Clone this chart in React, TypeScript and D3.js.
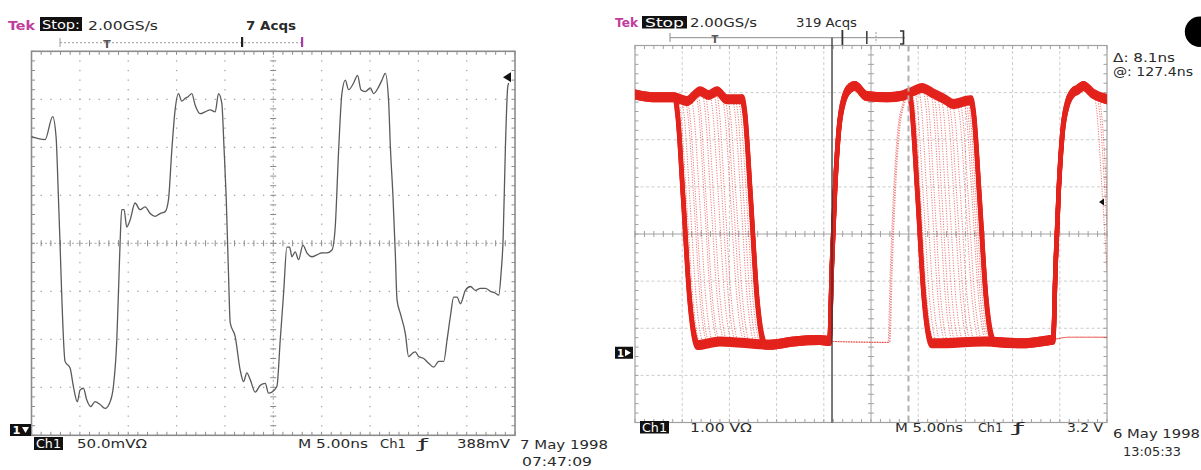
import React from 'react';
import * as d3 from 'd3';

// --------------------------------------------------------
// left screen: single acquisition, 50.0mV/div, 5.00ns/div
// time in ns from the left edge, voltage in mV from the centre line
// --------------------------------------------------------
const leftTimes = [
  0, 1.4, 2.19, 2.54, 2.78, 2.95, 3.12, 3.47, 3.99, 4.33,
  4.74, 5.02, 5.37, 5.71, 6.12, 6.57, 7.09, 7.61, 8.13, 8.47,
  8.82, 8.99, 9.16, 9.33, 9.57, 9.85, 10.19, 10.71, 11.23, 11.75,
  12.27, 12.78, 13.3, 13.82, 14.16, 14.51, 14.85, 15.2, 15.54, 15.89,
  16.23, 16.58, 16.92, 17.44, 17.96, 18.48, 19.0, 19.34, 19.68, 19.92,
  20.13, 20.37, 20.55, 21.06, 21.58, 21.93, 22.27, 22.62, 23.13, 23.65,
  24.17, 24.51, 24.86, 25.38, 25.72, 26.07, 26.41, 26.69, 26.93, 27.27,
  27.62, 28.07, 28.48, 29.0, 29.52, 30.03, 30.55, 31.07, 31.41, 31.76,
  32.1, 32.45, 32.79, 33.31, 33.72, 34.07, 34.52, 35.04, 35.38, 35.9,
  36.24, 36.59, 36.93, 37.11, 37.38, 37.62, 37.8, 38.14, 38.66, 39.0,
  39.35, 39.69, 40.04, 40.56, 41.07, 41.59, 42.11, 42.63, 42.97, 43.32,
  43.66, 44.01, 44.35, 44.87, 45.39, 45.9, 46.42, 46.94, 47.46, 47.97,
  48.32, 48.56, 48.77, 49.01, 49.25, 49.35
];
const leftMv = [
  111, 108, 132, 111, 49, 0, -52, -123, -130, -149,
  -165, -153, -151, -163, -170, -165, -168, -172, -165, -149,
  -101, -52, 0, 35, 35, 17, 24, 42, 35, 38,
  31, 28, 31, 33, 45, 97, 139, 156, 148, 151,
  153, 156, 144, 135, 137, 139, 137, 156, 146, 97,
  49, -31, -83, -97, -132, -144, -135, -142, -155, -148,
  -146, -156, -155, -149, -101, -52, -4, -4, -14, -9,
  -17, -2, -10, -14, -12, -10, -10, -7, 17, 97,
  156, 170, 160, 167, 175, 160, 158, 162, 156, 163,
  170, 177, 148, 101, 49, -10, -59, -73, -94, -118,
  -115, -113, -118, -120, -125, -129, -123, -123, -101, -76,
  -56, -56, -63, -49, -45, -49, -47, -47, -50, -52,
  -54, -31, 4, 101, 163, 167
];
const leftTrigMv = 173; // trigger level arrow (388mV abs)

// --------------------------------------------------------
// right screen: 319 acqs persistence, 1.00V/div, V from ground
// --------------------------------------------------------
const highT = [0, 1.9, 4.1, 5.5, 6.9, 7.8, 8.7, 9.7, 11.1, 13, 18, 21, 22.8, 23.3, 24.5, 26.7, 28.4, 29.5, 30.4, 31.6, 32.8, 33.7, 35.5, 37.3, 42, 46, 46.8, 47.5, 48.5, 50];
const highV = [5.48, 5.42, 5.42, 5.34, 5.55, 5.47, 5.55, 5.38, 5.38, 5.4, 5.4, 5.5, 5.62, 5.66, 5.45, 5.42, 5.46, 5.55, 5.62, 5.5, 5.38, 5.28, 5.36, 5.32, 5.4, 5.5, 5.57, 5.66, 5.5, 5.38];
const lowT = [0, 6.5, 9.0, 14.3, 16.8, 19.6, 21, 27, 32, 37, 41, 44, 46, 50];
const lowV = [0.2, 0.16, 0.24, 0.17, 0.24, 0.27, 0.24, 0.22, 0.2, 0.24, 0.2, 0.27, 0.33, 0.33];

// edge shapes: ns after edge start -> fraction of the swing
const fallDt = [0, 0.3, 0.9, 1.6, 2.1, 2.4];
const fallFr = [0, 0.06, 0.4, 0.82, 0.97, 1];
const riseDt = [0, 0.25, 0.6, 1.0, 1.5, 2.2];
const riseFr = [0, 0.3, 0.62, 0.85, 0.96, 1];

// edge times of the overlaid acquisitions (ns)
const fall1 = [4.2, 4.25, 4.3, 4.4, 4.55, 4.9, 5.3, 5.5, 5.9, 6.4, 6.6, 7.1, 7.4, 7.9, 8.3, 8.6, 9.2, 9.5, 9.8, 10.3, 10.6, 10.9, 11.1, 11.2, 11.3, 11.35];
const rise1 = [20.6, 20.55, 20.65, 20.6, 26.9, 20.6, 20.7, 20.6, 20.55, 20.6, 26.8, 20.65, 20.6, 20.6, 20.7, 20.55, 20.6, 20.6, 27.0, 20.65, 20.6, 20.6, 20.55, 20.6, 20.65, 20.6];
const fall2 = [29.0, 35.5, 31.3, 29.1, 34.1, 30.5, 35.2, 29.15, 32.9, 33.6, 34.8, 29.3, 31.6, 35.45, 30.0, 32.4, 35.55, 29.6, 33.2, 30.8, 35.0, 32.0, 34.4, 29.2, 35.35, 35.6];
const rise2 = [44.3, 44.25, 44.35, null, 44.3, 44.3, 44.2, 44.35, 44.3, null, 44.3, 44.25, 44.3, 44.3, 44.35, 44.3, 44.2, null, 44.3, 44.3, 44.35, 44.3, 44.25, 44.3, 44.3, 44.3];
const fall3 = [null, null, null, null, 48.9, null, null, null, null, null, null, null, null, 48.6, null, null, null, null, null, null, null, 49.1, null, null, null, null];
const boldTraces = [0, 25];           // envelope (earliest / latest edges)
const boldSpread = [-0.06, 0, 0.06];  // band thickness in V
const rightTrigV = 3.2;
const cursorT = [20.87, 28.97];

const FONT = '"DejaVu Sans", Verdana, sans-serif';
const RED = '#e3221c';

const xL = d3.scaleLinear([0, 50], [31.5, 515]);
const yL = d3.scaleLinear([-200, 200], [435.3, 51.3]);
const xR = d3.scaleLinear([0, 50], [635, 1107]);
const yR = d3.scaleLinear([-1.48, 6.52], [422.5, 45.5]);

const hi = d3.scaleLinear(highT, highV).clamp(true);
const lo = d3.scaleLinear(lowT, lowV).clamp(true);

function traceEdges(i) {
  const e = [{ t: fall1[i], up: false }, { t: rise1[i], up: true }, { t: fall2[i], up: false }];
  if (rise2[i] != null) e.push({ t: rise2[i], up: true });
  if (fall3[i] != null) e.push({ t: fall3[i], up: false });
  return e;
}

function tracePoints(edges) {
  const pts = [];
  let t0 = 0;
  let high = true;
  const seg = (a, b, lvl, knots) => {
    pts.push([a, lvl(a)]);
    knots.filter(t => t > a && t < b).forEach(t => pts.push([t, lvl(t)]));
    pts.push([b, lvl(b)]);
  };
  for (const e of edges) {
    if (e.t > t0) seg(t0, e.t, high ? hi : lo, high ? highT : lowT);
    const dts = e.up ? riseDt : fallDt;
    const frs = e.up ? riseFr : fallFr;
    dts.forEach((d, k) => {
      const t = e.t + d;
      if (k === 0 && e.t <= t0) return;
      const a = high ? hi(t) : lo(t);
      const b = high ? lo(t) : hi(t);
      pts.push([t, a + (b - a) * frs[k]]);
    });
    t0 = e.t + dts[dts.length - 1];
    high = !high;
  }
  if (t0 < 50) seg(t0, 50, high ? hi : lo, high ? highT : lowT);
  // keep time strictly increasing for the monotone curve
  return pts.filter((p, i) => i === 0 || p[0] > pts[i - 1][0]);
}

function Txt({ x, y, len, children, size = 12.5, fill = '#2a2a2a', weight = 'normal', anchor = 'start' }) {
  return (
    <text x={x} y={y} fontSize={size} fill={fill} fontWeight={weight} fontFamily={FONT}
      textAnchor={anchor} textLength={len} lengthAdjust="spacingAndGlyphs">{children}</text>
  );
}

// tek style graticule: 10 x 8 divisions, 5 minor per division
function Graticule({ x, y, dotted }) {
  const [x0, x1] = x.range();
  const [y1, y0] = y.range();
  const xm = d3.range(51).map(i => x0 + (x1 - x0) * i / 50);
  const ym = d3.range(41).map(i => y0 + (y1 - y0) * i / 40);
  const cx = xm[25], cy = ym[20];
  const border = dotted ? '#8c8c8c' : '#a0a0a0';
  const items = [];
  if (dotted) {
    for (let i = 5; i < 50; i += 5) {
      if (i === 25) continue;
      ym.slice(1, -1).forEach((yy, j) => items.push(<rect key={`v${i}-${j}`} x={xm[i] - 0.6} y={yy - 0.6} width={1.3} height={1.3} fill="#a6a6a6" />));
    }
    for (let j = 5; j < 40; j += 5) {
      if (j === 20) continue;
      xm.slice(1, -1).forEach((xx, i) => items.push(<rect key={`h${j}-${i}`} x={xx - 0.6} y={ym[j] - 0.6} width={1.3} height={1.3} fill="#a6a6a6" />));
    }
  } else {
    for (let i = 5; i < 50; i += 5) {
      if (i === 25) continue;
      items.push(<line key={`v${i}`} x1={xm[i]} x2={xm[i]} y1={y0} y2={y1} stroke="#cdcdcd" strokeDasharray="3 2.5" />);
    }
    for (let j = 5; j < 40; j += 5) {
      if (j === 20) continue;
      items.push(<line key={`h${j}`} x1={x0} x2={x1} y1={ym[j]} y2={ym[j]} stroke="#cdcdcd" strokeDasharray="3 2.5" />);
    }
  }
  return (
    <g>
      {items}
      <line x1={x0} x2={x1} y1={cy} y2={cy} stroke={dotted ? '#a8a8a8' : '#a4a4a4'} strokeDasharray={dotted ? '2 2.5' : null} />
      <line x1={cx} x2={cx} y1={y0} y2={y1} stroke={dotted ? '#a8a8a8' : '#a4a4a4'} strokeDasharray={dotted ? '2 2.5' : null} />
      {xm.map((xx, i) => (
        <g key={`tx${i}`} stroke={border}>
          <line x1={xx} x2={xx} y1={cy - 3} y2={cy + 3} />
          <line x1={xx} x2={xx} y1={y0} y2={y0 + 3.5} />
          <line x1={xx} x2={xx} y1={y1} y2={y1 - 3.5} />
        </g>
      ))}
      {ym.map((yy, j) => (
        <g key={`ty${j}`} stroke={border}>
          <line x1={cx - 3} x2={cx + 3} y1={yy} y2={yy} />
          <line x1={x0} x2={x0 + 3.5} y1={yy} y2={yy} />
          <line x1={x1} x2={x1 - 3.5} y1={yy} y2={yy} />
        </g>
      ))}
      <rect x={x0} y={y0} width={x1 - x0} height={y1 - y0} fill="none" stroke={border} strokeWidth={dotted ? 1.6 : 1.2} />
    </g>
  );
}

function LeftScope() {
  const line = d3.line().x(d => xL(d[0])).y(d => yL(d[1])).curve(d3.curveMonotoneX);
  const pts = leftTimes.map((t, i) => [t, leftMv[i]]);
  const ty = yL(leftTrigMv);
  return (
    <g>
      <Txt x={8} y={30} len={27} fill="#c23c9c" weight="bold">Tek</Txt>
      <rect x={40} y={17} width={42} height={14} fill="#111" />
      <Txt x={42} y={28.5} len={38} fill="#fff">Stop:</Txt>
      <Txt x={88} y={30} len={70}>2.00GS/s</Txt>
      <Txt x={246} y={30} len={50} weight="bold">7 Acqs</Txt>

      <line x1={60} x2={303} y1={42.7} y2={42.7} stroke="#9a9a9a" strokeDasharray="2 2" />
      <line x1={60} x2={60} y1={38} y2={47} stroke="#9a9a9a" />
      <Txt x={107} y={47.5} size={11} anchor="middle" weight="bold" fill="#555">T</Txt>
      <rect x={241} y={37} width={2.2} height={10} fill="#222" />
      <rect x={301} y={37} width={2.2} height={10} fill="#a63ca6" />

      <Graticule x={xL} y={yL} dotted />
      <path d={line(pts)} fill="none" stroke="#5a5a5a" strokeWidth={1.3} />
      <polygon points={`${xL.range()[1] - 12},${ty} ${xL.range()[1] - 4},${ty - 5} ${xL.range()[1] - 4},${ty + 5}`} fill="#111" />

      <rect x={10} y={424} width={21} height={12} fill="#111" />
      <Txt x={12.5} y={434} len={8} size={11} fill="#fff" weight="bold">1</Txt>
      <polygon points="22,427 29,427 25.5,433" fill="#fff" />
      <rect x={34} y={437} width={29} height={13} fill="#111" />
      <Txt x={36} y={447.5} len={25} fill="#fff">Ch1</Txt>
      <Txt x={77} y={448} len={70}>50.0mVΩ</Txt>
      <Txt x={298} y={448} len={70}>M 5.00ns</Txt>
      <Txt x={380} y={448} len={26}>Ch1</Txt>
      <Txt x={418} y={448} len={10}>ƒ</Txt>
      <Txt x={457} y={448} len={53}>388mV</Txt>
      <Txt x={520} y={449} len={88}>7 May 1998</Txt>
      <Txt x={522} y={466} len={70}>07:47:09</Txt>
    </g>
  );
}

function RightScope() {
  const line = d3.line().x(d => xR(d[0])).y(d => yR(d[1])).curve(d3.curveMonotoneX);
  const traces = fall1.map((_, i) => tracePoints(traceEdges(i)));
  const [x0, x1] = xR.range();
  const [yb, yt] = yR.range();
  const ty = yR(rightTrigV);
  const gy = yR(0);
  return (
    <g>
      <defs>
        <clipPath id="clipR"><rect x={x0} y={yt} width={x1 - x0} height={yb - yt} /></clipPath>
      </defs>
      <Txt x={615} y={27} len={23} fill="#c23c9c" weight="bold">Tek</Txt>
      <rect x={642} y={16} width={45} height={12.5} fill="#111" />
      <Txt x={645} y={26.5} len={39} fill="#fff">Stop</Txt>
      <Txt x={690} y={27} len={67}>2.00GS/s</Txt>
      <Txt x={796} y={27} len={61}>319 Acqs</Txt>

      <line x1={670} x2={905} y1={37.7} y2={37.7} stroke="#8a8a8a" />
      <line x1={670} x2={670} y1={33} y2={42} stroke="#8a8a8a" />
      <Txt x={715} y={42.5} size={10} anchor="middle" weight="bold" fill="#555">T</Txt>
      <rect x={841.5} y={30} width={1.8} height={15} fill="#333" />
      <rect x={866} y={31} width={1.6} height={13} fill="#444" />
      <line x1={876} x2={876} y1={32} y2={43} stroke="#999" strokeDasharray="2 1.5" />
      <path d="M900,31 H903.5 V44 H900" fill="none" stroke="#333" strokeWidth={1.6} />

      <Graticule x={xR} y={yR} dotted={false} />

      <g clipPath="url(#clipR)">
        {traces.map((p, i) => (
          <path key={i} d={line(p)} fill="none" stroke={RED} strokeWidth={1} strokeOpacity={0.6} strokeDasharray="1.2 1.4" />
        ))}
        {boldTraces.map(i => boldSpread.map((dv, k) => (
          <path key={`b${i}-${k}`} d={line(traces[i].map(([t, v]) => [t, v + dv]))} fill="none" stroke={RED}
            strokeWidth={4.4} strokeLinejoin="round" strokeLinecap="round" />
        )))}
      </g>

      <line x1={xR(cursorT[0])} x2={xR(cursorT[0])} y1={37.7} y2={yb} stroke="#333" strokeWidth={1.3} />
      <line x1={xR(cursorT[1])} x2={xR(cursorT[1])} y1={yt} y2={yb} stroke="#b0b0b0" strokeWidth={2} strokeDasharray="6 4" />
      <polygon points={`${x1 - 8},${ty} ${x1 - 3},${ty - 3.5} ${x1 - 3},${ty + 3.5}`} fill="#111" />

      <rect x={615} y={gy - 6} width={18} height={12} fill="#111" />
      <Txt x={617} y={gy + 4} len={7} size={11} fill="#fff" weight="bold">1</Txt>
      <polygon points={`${625},${gy - 3.5} ${631},${gy} ${625},${gy + 3.5}`} fill="#fff" />

      <Txt x={1113} y={62} len={62} size={11.5}>Δ: 8.1ns</Txt>
      <Txt x={1113} y={76} len={80} size={11.5}>@: 127.4ns</Txt>
      <circle cx={1200} cy={31.7} r={15.2} fill="#000" />

      <rect x={640} y={421} width={29} height={12.5} fill="#111" />
      <Txt x={642} y={431.5} len={25} fill="#fff">Ch1</Txt>
      <Txt x={690} y={432} len={62}>1.00 VΩ</Txt>
      <Txt x={895} y={432} len={68}>M 5.00ns</Txt>
      <Txt x={978} y={432} len={25}>Ch1</Txt>
      <Txt x={1013} y={432} len={11}>ƒ</Txt>
      <Txt x={1067} y={432} len={36}>3.2 V</Txt>
      <Txt x={1113} y={438} len={87}>6 May 1998</Txt>
      <Txt x={1123} y={456} len={58}>13:05:33</Txt>
    </g>
  );
}

export default function App() {
  return (
    <svg width={1201} height={470} style={{ position: 'absolute', left: 0, top: 0, background: '#fff' }}>
      <LeftScope />
      <RightScope />
    </svg>
  );
}
